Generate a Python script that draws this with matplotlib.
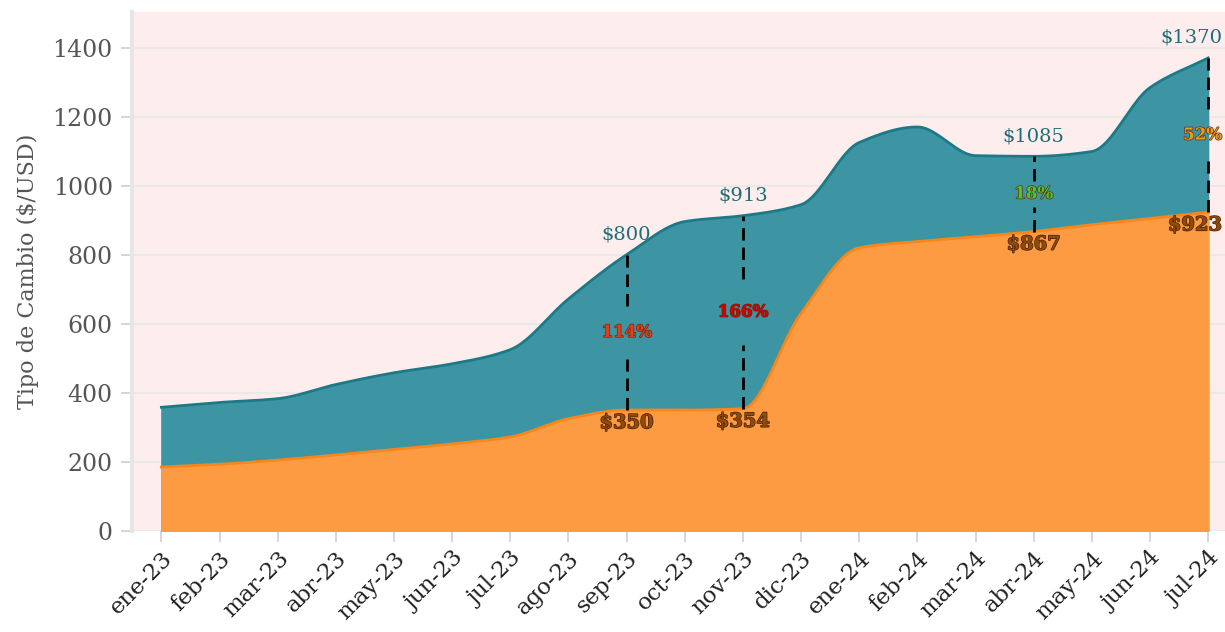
import numpy as np
import matplotlib
matplotlib.use("Agg")
import matplotlib.pyplot as plt
import matplotlib.patheffects as pe

meses = ["ene-23", "feb-23", "mar-23", "abr-23", "may-23", "jun-23", "jul-23",
         "ago-23", "sep-23", "oct-23", "nov-23", "dic-23", "ene-24", "feb-24",
         "mar-24", "abr-24", "may-24", "jun-24", "jul-24"]
blue = [358, 372, 383, 424, 458, 484, 525, 672, 800, 896, 913, 945, 1125, 1170,
        1087, 1085, 1099, 1284, 1370]
oficial = [185, 193, 205, 220, 236, 252, 272, 325, 350, 350, 354, 630, 820, 838,
           852, 867, 887, 905, 923]

# annotated months: (index, percent label, colour)
notas = [(8, "114%", "#e2401c"), (10, "166%", "#d40000"),
         (15, "18%", "#3ccf2f"), (18, "52%", "#e8a012")]


def monotone(x, y, n=24):
    # monotone cubic (like d3 curveMonotoneX) just for drawing
    x = np.asarray(x, float)
    y = np.asarray(y, float)
    h = np.diff(x)
    d = np.diff(y) / h
    m = np.zeros_like(y)
    m[0], m[-1] = d[0], d[-1]
    for i in range(1, len(y) - 1):
        if d[i - 1] * d[i] <= 0:
            m[i] = 0
        else:
            w1 = 2 * h[i] + h[i - 1]
            w2 = h[i] + 2 * h[i - 1]
            m[i] = (w1 + w2) / (w1 / d[i - 1] + w2 / d[i])
    xs, ys = [], []
    for i in range(len(x) - 1):
        t = np.linspace(0, 1, n, endpoint=False)
        h00 = 2 * t**3 - 3 * t**2 + 1
        h10 = t**3 - 2 * t**2 + t
        h01 = -2 * t**3 + 3 * t**2
        h11 = t**3 - t**2
        xs.append(x[i] + t * h[i])
        ys.append(h00 * y[i] + h10 * h[i] * m[i] + h01 * y[i + 1] + h11 * h[i] * m[i + 1])
    xs.append([x[-1]])
    ys.append([y[-1]])
    return np.concatenate(xs), np.concatenate(ys)


plt.rcParams["font.family"] = ["DejaVu Serif"]

fig = plt.figure(figsize=(12.25, 6.32), dpi=100)
ax = fig.add_axes([0.108, 0.160, 0.892, 0.821])
ax.set_facecolor("#fdeeed")

x = np.arange(len(meses))
bx, by = monotone(x, blue)
ox, oy = monotone(x, oficial)

ax.fill_between(bx, 0, by, color="#3d95a4", zorder=2)
ax.plot(bx, by, color="#1c7a87", lw=2, zorder=3)
ax.fill_between(ox, 0, oy, color="#fd9b42", zorder=4)
ax.plot(ox, oy, color="#f7861c", lw=2, zorder=5)

last = len(meses) - 1
for i, txt, col in notas:
    top, bot = blue[i], oficial[i]
    mid = (top + bot) / 2
    gap = 0.17 * (top - bot)
    ax.plot([i, i], [mid + gap, top], color="black", lw=2, ls=(0, (4.5, 2.5)), zorder=6)
    ax.plot([i, i], [bot, mid - gap], color="black", lw=2, ls=(0, (4.5, 2.5)), zorder=6)
    # keep the last column's labels inside the figure
    dx, ha = (10, "right") if i == last else (0, "center")
    ax.annotate(txt, (i, mid), xytext=(dx, 0), textcoords="offset points",
                color=col, fontsize=12, fontweight="bold", ha=ha, va="center",
                zorder=7, annotation_clip=False,
                path_effects=[pe.withStroke(linewidth=1.0, foreground="#6a2a10")])
    ax.annotate("$" + str(top), (i, top), xytext=(dx, 8), textcoords="offset points",
                ha=ha, va="bottom", color="#1d6c77", fontsize=14, zorder=7,
                annotation_clip=False)
    ax.annotate("$" + str(bot), (i, bot), xytext=(dx, -3), textcoords="offset points",
                ha=ha, va="top", color="#8f4a0e", fontsize=14, fontweight="bold",
                zorder=7, annotation_clip=False,
                path_effects=[pe.withStroke(linewidth=1.0, foreground="#4a2200")])

ax.set_xlim(-0.5, 18.29)
ax.set_ylim(0, 1503)
ax.set_yticks(range(0, 1401, 200))
ax.set_xticks(x)
ax.set_xticklabels(meses, rotation=45, ha="right", rotation_mode="anchor",
                   fontsize=16.5, color="#222222")
ax.tick_params(axis="x", length=8, color="#d0d0d0", width=1.2, pad=4)
ax.tick_params(axis="y", length=8, color="#d0d0d0", width=1.2, labelsize=17,
               labelcolor="#555555", pad=6)
ax.yaxis.grid(True, color="#ebe8e8", lw=1.5, zorder=0)
ax.set_axisbelow(True)
for s in ["top", "right", "bottom"]:
    ax.spines[s].set_visible(False)
ax.spines["left"].set_color("#e6e6e6")
ax.spines["left"].set_linewidth(3)
ax.set_ylabel("Tipo de Cambio ($/USD)", fontsize=16, color="#555555", labelpad=10)

fig.savefig("out.png", dpi=100)
